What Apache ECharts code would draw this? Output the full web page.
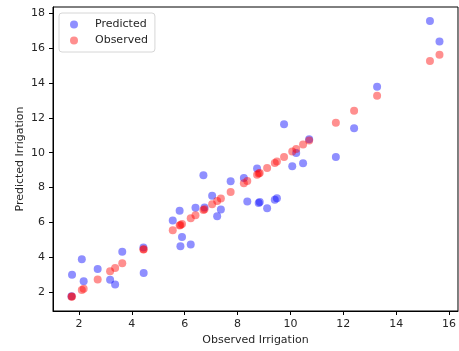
<!DOCTYPE html>
<html>
<head>
<meta charset="utf-8">
<script src="https://cdn.jsdelivr.net/npm/echarts@6/dist/echarts.min.js"></script>
<style>
  html, body { margin: 0; padding: 0; background: #fff; }
  #chart { width: 459px; height: 351px; }
</style>
</head>
<body>
<div id="chart"></div>
<script>
// observed irrigation vs model prediction
const observed = [1.72, 1.74, 2.11, 2.18, 2.71, 3.18, 3.37, 3.64, 4.44, 4.45,
  5.55, 5.81, 5.84, 5.90, 6.23, 6.41, 6.71, 6.75, 7.04, 7.23,
  7.37, 7.74, 8.24, 8.37, 8.74, 8.80, 8.84, 9.12, 9.41, 9.49,
  9.76, 10.07, 10.22, 10.48, 10.71, 11.72, 12.41, 13.28, 15.28, 15.64]
const predicted = [1.75, 2.99, 3.87, 2.61, 3.32, 2.70, 2.42, 4.31, 4.55, 3.09,
  6.10, 6.66, 4.63, 5.15, 4.73, 6.83, 8.70, 6.85, 7.53, 6.35,
  6.73, 8.36, 8.55, 7.19, 9.10, 7.11, 7.17, 6.81, 7.29, 7.38,
  11.64, 9.23, 9.98, 9.40, 10.78, 9.75, 11.41, 13.80, 17.58, 16.39]
const xTicks = [2, 4, 6, 8, 10, 12, 14, 16]
const yTicks = [2, 4, 6, 8, 10, 12, 14, 16, 18]

const font = 'DejaVu Sans'
const textColor = '#262626'

const chart = echarts.init(document.getElementById('chart'), null, { renderer: 'canvas' })

const axisCommon = {
  type: 'value',
  nameLocation: 'middle',
  nameMoveOverlap: false,
  nameTextStyle: { fontFamily: font, fontSize: 11, color: textColor },
  axisLine: { show: true, onZero: false, lineStyle: { color: '#000', width: 1 } },
  axisTick: { show: true, length: 4, lineStyle: { color: '#000', width: 1 } },
  axisLabel: { fontFamily: font, fontSize: 11, color: textColor },
  splitLine: { show: false },
}

chart.setOption({
  animation: false,
  backgroundColor: '#fff',
  grid: {
    left: 53,
    top: 7,
    width: 408,
    height: 305.5,
    show: true,
    borderColor: '#000',
    borderWidth: 1,
    backgroundColor: 'transparent',
  },
  legend: {
    orient: 'vertical',
    left: 59,
    top: 13,
    padding: [6, 7, 6, 11],
    itemGap: 5,
    itemWidth: 8,
    itemHeight: 8,
    icon: 'circle',
    backgroundColor: '#fff',
    borderColor: '#d6d6d6',
    borderWidth: 1,
    borderRadius: 3,
    textStyle: { fontFamily: font, fontSize: 11, color: textColor, padding: [0, 0, 0, 12] },
    data: ['Predicted', 'Observed'],
  },
  xAxis: {
    ...axisCommon,
    name: 'Observed Irrigation',
    nameGap: 24,
    min: 1.02,
    max: 16.34,
    axisTick: { ...axisCommon.axisTick, customValues: xTicks },
    axisLabel: { ...axisCommon.axisLabel, margin: 8, customValues: xTicks },
  },
  yAxis: {
    ...axisCommon,
    name: 'Predicted Irrigation',
    nameGap: 27,
    min: 0.9,
    max: 18.38,
    axisTick: { ...axisCommon.axisTick, customValues: yTicks },
    axisLabel: { ...axisCommon.axisLabel, margin: 8, customValues: yTicks },
  },
  series: [
    {
      name: 'Predicted',
      type: 'scatter',
      symbolSize: 8,
      data: observed.map((x, i) => [x, predicted[i]]),
      itemStyle: { color: 'rgba(0,0,255,0.55)' },
      emphasis: { disabled: true },
    },
    {
      name: 'Observed',
      type: 'scatter',
      symbolSize: 8,
      data: observed.map((x) => [x, x]),
      itemStyle: { color: 'rgba(255,0,0,0.55)' },
      emphasis: { disabled: true },
    },
  ],
})
</script>
</body>
</html>
